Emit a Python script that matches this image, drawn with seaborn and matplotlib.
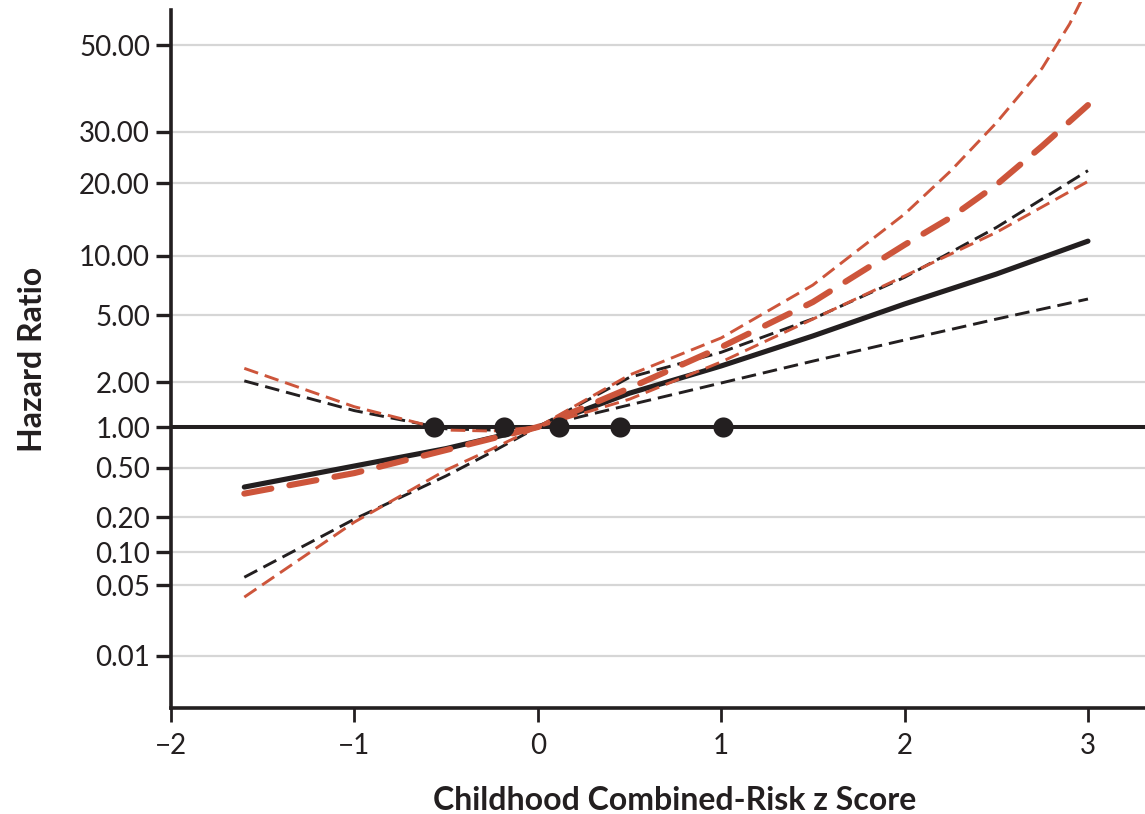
"""Hazard ratio by childhood combined-risk z score: spline estimates with 95% CI."""

import numpy as np
import matplotlib
matplotlib.use("Agg")
import matplotlib.pyplot as plt
import seaborn as sns

# --- data ---------------------------------------------------------------
z_est = [-1.6, -1.0, -0.5, 0.0, 0.5, 1.0, 1.5, 2.0, 2.5, 3.0]
z_ci = [-1.6, -1.0, -0.5, -0.25, 0.0, 0.5, 1.0, 1.5, 2.0, 2.5, 3.0]
z_red_est = [-1.6, -1.0, -0.5, 0.0, 0.5, 1.0, 1.5, 2.0, 2.25, 2.5, 2.75, 3.0]
z_red_hi = [-1.6, -1.0, -0.5, -0.25, 0.0, 0.5, 1.0, 1.5, 2.0, 2.25, 2.5, 2.75, 2.9, 3.0]

hr_black_est = [0.35, 0.515, 0.693, 1.0, 1.69, 2.50, 3.76, 5.69, 8.07, 11.5]
hr_black_hi = [2.04, 1.29, 0.97, 0.95, 1.0, 2.14, 3.01, 4.75, 7.77, 13.1, 22.1]
hr_black_lo = [0.059, 0.193, 0.43, 0.653, 1.0, 1.41, 1.98, 2.67, 3.56, 4.73, 6.03]

hr_red_est = [0.31, 0.453, 0.676, 1.0, 1.83, 3.23, 5.82, 11.1, 14.4, 19.7, 26.8, 35.1]
hr_red_hi = [2.42, 1.37, 0.95, 0.934, 1.0, 2.21, 3.66, 7.10, 14.9, 22.0, 31.6, 43.6, 56.6, 70.3]
hr_red_lo = [0.038, 0.182, 0.479, 0.688, 1.0, 1.54, 2.64, 4.73, 7.89, 12.5, 20.3]

z_dots = [-0.565, -0.185, 0.115, 0.45, 1.01]
hr_dots = [1.0, 1.0, 1.0, 1.0, 1.0]

ytick_vals = [0.01, 0.05, 0.10, 0.20, 0.50, 1.00, 2.00, 5.00, 10.0, 20.0, 30.0, 50.0]
ytick_labels = ["0.01", "0.05", "0.10", "0.20", "0.50", "1.00", "2.00",
                "5.00", "10.00", "20.00", "30.00", "50.00"]
xtick_vals = [-2, -1, 0, 1, 2, 3]
xtick_labels = ["\u22122", "\u22121", "0", "1", "2", "3"]

# the original y axis is not a plain log axis: spacing per decade shrinks
# toward the bottom, so map log10(HR) piecewise onto axis height
knot_log = np.log10([0.001, 0.01, 0.05, 0.1, 0.2, 0.5, 1, 2, 5, 10, 20, 30, 50, 100])
knot_h = -np.array([756.8, 655.7, 585.0, 552.3, 517.3, 467.7, 427.0, 382.3,
                    315.0, 255.7, 183.3, 131.7, 45.0, -72.7])


def forward(v):
    v = np.clip(np.asarray(v, dtype=float), 1e-9, None)
    return np.interp(np.log10(v), knot_log, knot_h)


def inverse(h):
    return 10 ** np.interp(np.asarray(h, dtype=float), knot_h, knot_log)


BLACK = "#231f20"
RED = "#cd553b"

sns.set_theme(style="white")
plt.rcParams["font.family"] = ["Lato", "DejaVu Sans"]

fig = plt.figure(figsize=(11.45, 8.14), dpi=100)
ax = fig.add_axes([0.1493, 0.1298, 0.8507, 0.8677])
ax.set_yscale("function", functions=(forward, inverse))

ax.axhline(1.0, color=BLACK, lw=2.9, zorder=2)

thin = dict(lw=2.1, dash_capstyle="butt")
sns.lineplot(x=z_ci, y=hr_black_hi, ax=ax, color=BLACK, linestyle=(0, (5, 2.4)), **thin)
sns.lineplot(x=z_ci, y=hr_black_lo, ax=ax, color=BLACK, linestyle=(0, (5, 2.4)), **thin)
sns.lineplot(x=z_est, y=hr_black_est, ax=ax, color=BLACK, lw=3.7, solid_capstyle="round")
sns.lineplot(x=z_red_hi, y=hr_red_hi, ax=ax, color=RED, linestyle=(0, (5, 2.4)), **thin)
sns.lineplot(x=z_ci, y=hr_red_lo, ax=ax, color=RED, linestyle=(0, (5, 2.4)), **thin)
sns.lineplot(x=z_red_est, y=hr_red_est, ax=ax, color=RED, lw=4.4,
             linestyle=(0, (4.5, 3.0)), dash_capstyle="round")

sns.scatterplot(x=z_dots, y=hr_dots, ax=ax, color=BLACK, s=210, linewidth=0, zorder=5)

ax.set_xlim(-2, 3.311)
ax.set_ylim(0.00302, 64.4)

ax.set_yticks(ytick_vals)
ax.set_yticklabels(ytick_labels)
ax.set_xticks(xtick_vals)
ax.set_xticklabels(xtick_labels)
ax.minorticks_off()

ax.yaxis.grid(True, color="#d6d6d6", lw=1.6)
ax.xaxis.grid(False)
ax.set_axisbelow(True)

for side in ["top", "right"]:
    ax.spines[side].set_visible(False)
for side in ["left", "bottom"]:
    ax.spines[side].set_color(BLACK)
    ax.spines[side].set_linewidth(2.6)
ax.spines["left"].set_bounds(0.00302, 61.4)

ax.tick_params(axis="y", length=11, width=2.4, color=BLACK, pad=4,
               labelsize=20, labelcolor=BLACK, left=True)
ax.tick_params(axis="x", length=10, width=2.0, color=BLACK, pad=8,
               labelsize=20, labelcolor=BLACK, bottom=True)

ax.set_xlabel("Childhood Combined-Risk z Score", fontsize=23, fontweight="bold",
              color=BLACK, va="center")
ax.xaxis.set_label_coords(0.5175, -0.1298)
ax.set_ylabel("Hazard Ratio", fontsize=23, fontweight="bold", color=BLACK, va="center")
ax.yaxis.set_label_coords(-0.1417, 0.4946)

fig.savefig("out.png", dpi=100)
plt.close(fig)
